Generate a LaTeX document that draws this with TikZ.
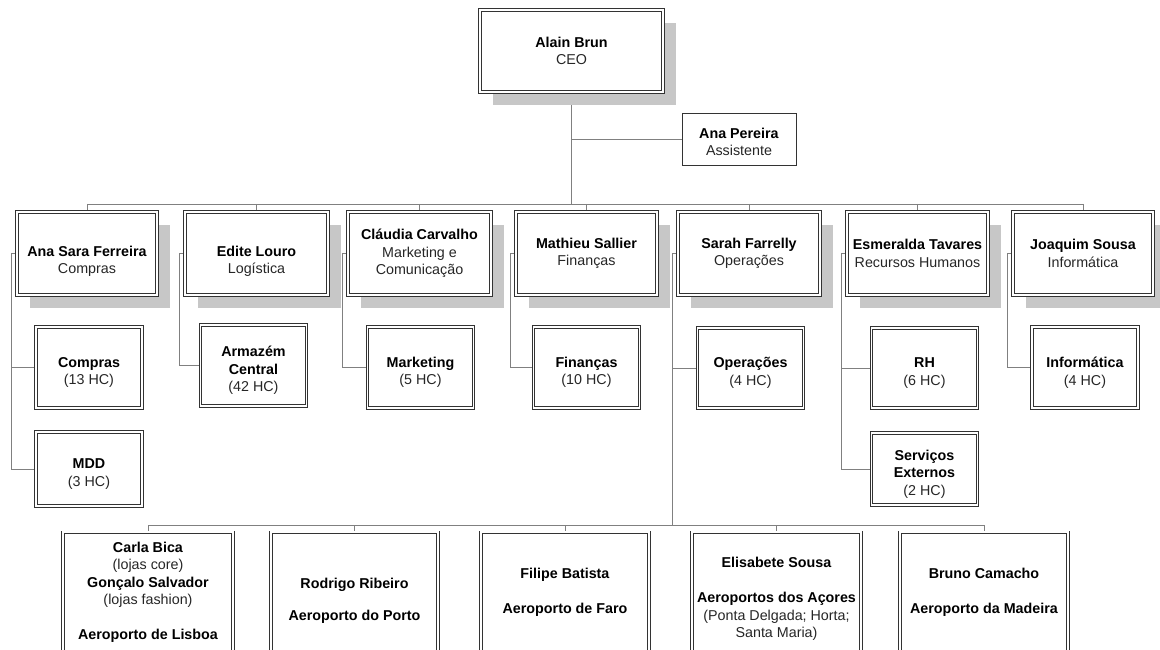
\documentclass[tikz,border=0pt]{standalone}
\usepackage{fontspec}
\setmainfont{Liberation Sans}
\usetikzlibrary{shadows,backgrounds}
\newcommand{\bname}[1]{\textbf{#1}}
\newcommand{\role}[1]{\textcolor{black!85}{#1}}
\begin{document}
\begin{tikzpicture}[x=1pt,y=-1pt,
  font=\fontsize{14.3}{17.5}\selectfont,
  box/.style={rectangle, draw=black!80, line width=0.75pt, double=white, double distance=1.8pt, fill=white, inner sep=0pt},
  sbox/.style={box, drop shadow={shadow xshift=13pt, shadow yshift=-13pt, fill=black!22, opacity=1}},
  abox/.style={rectangle, draw=black!80, line width=0.9pt, fill=white, inner sep=0pt},
  txt/.style={align=center, inner sep=0pt, text=black},
  conn/.style={draw=black!50, line width=0.7pt},
  lvtwo/.style={sbox, minimum height=83pt},
  lvthree/.style={box, minimum width=106pt},
  bot/.style={box, minimum height=130pt, anchor=north},
]
\useasboundingbox (0,0) rectangle (1160,650);
\begin{pgfonlayer}{background}
\fill[white] (0,0) rectangle (1160,650);
\end{pgfonlayer}
\clip (0,0) rectangle (1160,650);

% top
\node[sbox, minimum width=183pt, minimum height=82pt] (ceo) at (571.5,51) {};
\node[txt] (ceoT) at (ceo.center) {\bname{Alain Brun}\\\role{CEO}};
\node[abox, minimum width=114pt, minimum height=52pt] (anap) at (739,139) {};
\node[txt] (anapT) at ([yshift=-3pt]anap.center) {\bname{Ana Pereira}\\\role{Assistente}};

% level 2
\node[lvtwo, minimum width=140pt] (anasara) at (87,253.5) {};
\node[txt] (anasaraT) at ([yshift=-8pt]anasara.center) {\bname{Ana Sara Ferreira}\\\role{Compras}};
\node[lvtwo, minimum width=143pt] (edite) at (256.5,253.5) {};
\node[txt] (editeT) at ([yshift=-8pt]edite.center) {\bname{Edite Louro}\\\role{Logística}};
\node[lvtwo, minimum width=143pt] (claudia) at (419.5,253.5) {};
\node[txt] (claudiaT) at (claudia.center) {\bname{Cláudia Carvalho}\\\role{Marketing e}\\\role{Comunicação}};
\node[lvtwo, minimum width=141pt] (mathieu) at (586.5,253.5) {};
\node[txt] (mathieuT) at (mathieu.center) {\bname{Mathieu Sallier}\\\role{Finanças}};
\node[lvtwo, minimum width=142pt] (sarah) at (749,253.5) {};
\node[txt] (sarahT) at (sarah.center) {\bname{Sarah Farrelly}\\\role{Operações}};
\node[lvtwo, minimum width=141pt] (esmeralda) at (917.5,253.5) {};
\node[txt] (esmeraldaT) at (esmeralda.center) {\bname{Esmeralda Tavares}\\\role{Recursos Humanos}};
\node[lvtwo, minimum width=140pt] (joaquim) at (1083,253.5) {};
\node[txt] (joaquimT) at (joaquim.center) {\bname{Joaquim Sousa}\\\role{Informática}};

% level 3
\node[lvthree, minimum height=81pt] (compras) at (89,367.5) {};
\node[txt] (comprasT) at ([yshift=-5pt]compras.center) {\bname{Compras}\\\role{(13 HC)}};
\node[lvthree, minimum height=74pt] (mdd) at (89,469) {};
\node[txt] (mddT) at ([yshift=-5pt]mdd.center) {\bname{MDD}\\\role{(3 HC)}};
\node[lvthree, minimum height=81pt] (armazem) at (253.5,365.5) {};
\node[txt] (armazemT) at ([yshift=-5pt]armazem.center) {\bname{Armazém}\\\bname{Central}\\\role{(42 HC)}};
\node[lvthree, minimum height=81pt] (marketing) at (420.5,367.5) {};
\node[txt] (marketingT) at ([yshift=-5pt]marketing.center) {\bname{Marketing}\\\role{(5 HC)}};
\node[lvthree, minimum height=81pt] (financas) at (586.5,367.5) {};
\node[txt] (financasT) at ([yshift=-5pt]financas.center) {\bname{Finanças}\\\role{(10 HC)}};
\node[lvthree, minimum height=80pt] (operacoes) at (750.5,368) {};
\node[txt] (operacoesT) at ([yshift=-5pt]operacoes.center) {\bname{Operações}\\\role{(4 HC)}};
\node[lvthree, minimum height=80pt] (rh) at (924.5,368) {};
\node[txt] (rhT) at ([yshift=-5pt]rh.center) {\bname{RH}\\\role{(6 HC)}};
\node[lvthree, minimum height=72pt] (servicos) at (924.5,469) {};
\node[txt] (servicosT) at ([yshift=-5pt]servicos.center) {\bname{Serviços}\\\bname{Externos}\\\role{(2 HC)}};
\node[lvthree, minimum height=81pt] (informatica) at (1085,367.5) {};
\node[txt] (informaticaT) at ([yshift=-5pt]informatica.center) {\bname{Informática}\\\role{(4 HC)}};

% bottom row
\node[bot, minimum width=170pt] (carla) at (148,532) {};
\node[txt] (carlaT) at (148,592.5) {\bname{Carla Bica}\\\role{(lojas core)}\\\bname{Gonçalo Salvador}\\\role{(lojas fashion)}\\[17.5pt]\bname{Aeroporto de Lisboa}};
\node[bot, minimum width=167pt] (rodrigo) at (354.5,532) {};
\node[txt] (rodrigoT) at (354.5,601) {\bname{Rodrigo Ribeiro}\\[15pt]\bname{Aeroporto do Porto}};
\node[bot, minimum width=168pt] (filipe) at (565,532) {};
\node[txt] (filipeT) at (565,592.5) {\bname{Filipe Batista}\\[17.5pt]\bname{Aeroporto de Faro}};
\node[bot, minimum width=169pt] (elisabete) at (776.5,532) {};
\node[txt] (elisabeteT) at (776.5,599) {\bname{Elisabete Sousa}\\[17.5pt]\bname{Aeroportos dos Açores}\\\role{(Ponta Delgada; Horta;}\\\role{Santa Maria)}};
\node[bot, minimum width=168pt] (bruno) at (984,532) {};
\node[txt] (brunoT) at (984,592.5) {\bname{Bruno Camacho}\\[17.5pt]\bname{Aeroporto da Madeira}};

\coordinate (busY) at (0,204);
\coordinate (busB) at (0,525);

\begin{pgfonlayer}{background}
% CEO trunk and assistant
\draw[conn] (ceo.south) -- (ceo.south |- busY);
\draw[conn] (ceo.south |- anap.west) -- (anap.west);
% top bus
\draw[conn] (anasara.north |- busY) -- (joaquim.north |- busY);
\foreach \n in {anasara,edite,claudia,mathieu,sarah,esmeralda,joaquim}
  \draw[conn] (\n.north |- busY) -- (\n.north);
% Ana Sara
\draw[conn] (anasara.west) -- ++(-5,0) coordinate (a1) -- (a1 |- mdd.west) -- (mdd.west);
\draw[conn] (a1 |- compras.west) -- (compras.west);
% Edite
\draw[conn] (edite.west) -- ++(-5,0) coordinate (e1) -- (e1 |- armazem.west) -- (armazem.west);
% Claudia
\draw[conn] (claudia.west) -- ++(-5,0) coordinate (c1) -- (c1 |- marketing.west) -- (marketing.west);
% Mathieu
\draw[conn] (mathieu.west) -- ++(-5,0) coordinate (m1) -- (m1 |- financas.west) -- (financas.west);
% Sarah
\draw[conn] (sarah.west) -- ++(-5,0) coordinate (s1) -- (s1 |- busB);
\draw[conn] (s1 |- operacoes.west) -- (operacoes.west);
% Esmeralda
\draw[conn] (esmeralda.west) -- ++(-5,0) coordinate (r1) -- (r1 |- servicos.west) -- (servicos.west);
\draw[conn] (r1 |- rh.west) -- (rh.west);
% Joaquim
\draw[conn] (joaquim.west) -- ++(-5,0) coordinate (j1) -- (j1 |- informatica.west) -- (informatica.west);
% bottom bus
\draw[conn] (carla.north |- busB) -- (bruno.north |- busB);
\foreach \n in {carla,rodrigo,filipe,elisabete,bruno}
  \draw[conn] (\n.north |- busB) -- (\n.north);
\end{pgfonlayer}
\end{tikzpicture}
\end{document}
